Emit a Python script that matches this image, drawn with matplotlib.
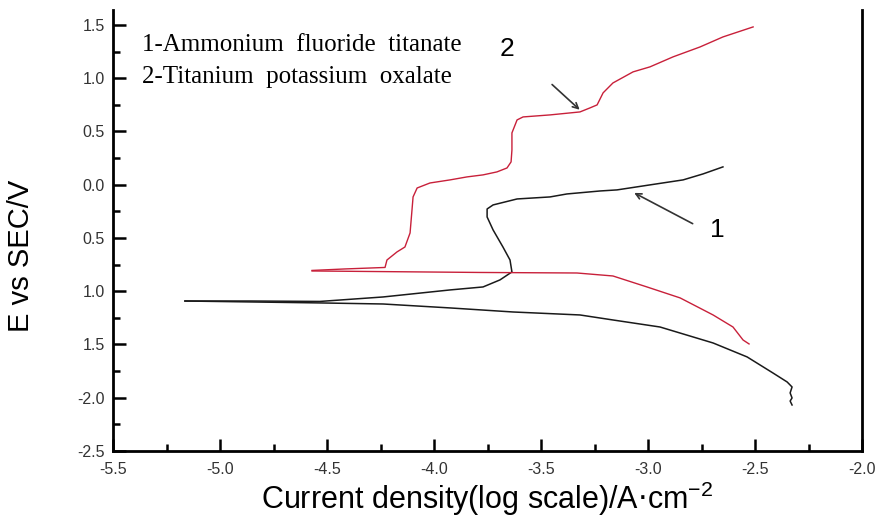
import matplotlib
matplotlib.use("Agg")
import matplotlib.pyplot as plt
from matplotlib.ticker import FixedLocator, FixedFormatter, MultipleLocator

# ── Curve 1: Ammonium fluoride titanate (black) ──────────────────────────────
c1_cath_x = [-5.164, -4.533, -4.238, -3.925, -3.631, -3.318, -3.164, -2.944,
             -2.696, -2.537, -2.416, -2.350, -2.327, -2.336, -2.327, -2.336, -2.327]
c1_cath_y = [-1.092, -1.110, -1.120, -1.157, -1.195, -1.223, -1.270, -1.336,
             -1.486, -1.617, -1.768, -1.852, -1.899, -1.955, -2.002, -2.031, -2.068]
c1_anod_x = [-5.164, -4.860, -4.533, -4.238, -3.925, -3.771, -3.692, -3.636,
             -3.645, -3.678, -3.724, -3.752, -3.752, -3.724, -3.612, -3.458,
             -3.379, -3.224, -3.145, -2.991, -2.836, -2.743, -2.650]
c1_anod_y = [-1.092, -1.092, -1.096, -1.054, -0.988, -0.960, -0.894, -0.819,
             -0.707, -0.585, -0.425, -0.303, -0.228, -0.190, -0.134, -0.115,
             -0.087, -0.059, -0.049, -0.002, 0.045, 0.101, 0.167]

# ── Curve 2: Titanium potassium oxalate (red) ────────────────────────────────
c2_cath_x = [-4.570, -3.785, -3.332, -3.164, -3.005, -2.850, -2.696, -2.603,
             -2.556, -2.528]
c2_cath_y = [-0.810, -0.824, -0.829, -0.857, -0.960, -1.063, -1.223, -1.336,
             -1.458, -1.495]
c2_anod_x = [-4.570, -4.416, -4.229, -4.220, -4.173, -4.136, -4.112, -4.103,
             -4.098, -4.079, -4.019, -3.925, -3.846, -3.771, -3.706, -3.659,
             -3.640, -3.636, -3.636, -3.612, -3.584, -3.458, -3.318, -3.271,
             -3.238, -3.210, -3.164, -3.070, -2.991, -2.883, -2.757, -2.650, -2.509]
c2_anod_y = [-0.805, -0.791, -0.777, -0.707, -0.631, -0.585, -0.453, -0.237,
             -0.115, -0.031, 0.016, 0.045, 0.073, 0.092, 0.120, 0.157,
             0.214, 0.326, 0.486, 0.608, 0.636, 0.655, 0.683, 0.721,
             0.749, 0.862, 0.955, 1.059, 1.106, 1.200, 1.293, 1.387, 1.481]

x_ticks = [-5.5, -5.0, -4.5, -4.0, -3.5, -3.0, -2.5, -2.0]
x_labels = ["-5.5", "-5.0", "-4.5", "-4.0", "-3.5", "-3.0", "-2.5", "-2.0"]
y_ticks = [1.5, 1.0, 0.5, 0.0, -0.5, -1.0, -1.5, -2.0, -2.5]
y_labels = ["1.5", "1.0", "0.5", "0.0", "0.5", "1.0", "1.5", "-2.0", "-2.5"]

legend_lines = ["1-Ammonium  fluoride  titanate", "2-Titanium  potassium  oxalate"]

BLACK = "#1a1a1a"
RED = "#c8203a"

fig = plt.figure(figsize=(8.79, 5.2), dpi=100)
ax = fig.add_axes([0.1286, 0.1327, 0.8521, 0.8481])

ax.plot(c1_cath_x, c1_cath_y, color=BLACK, lw=1.1)
ax.plot(c1_anod_x, c1_anod_y, color=BLACK, lw=1.1)
ax.plot(c2_cath_x, c2_cath_y, color=RED, lw=1.0)
ax.plot(c2_anod_x, c2_anod_y, color=RED, lw=1.0)

ax.set_xlim(-5.5, -2.0)
ax.set_ylim(-2.5, 1.64)

ax.xaxis.set_major_locator(FixedLocator(x_ticks))
ax.xaxis.set_major_formatter(FixedFormatter(x_labels))
ax.xaxis.set_minor_locator(MultipleLocator(0.25))
ax.yaxis.set_major_locator(FixedLocator(y_ticks))
ax.yaxis.set_major_formatter(FixedFormatter(y_labels))
ax.yaxis.set_minor_locator(MultipleLocator(0.25))

ax.tick_params(which="both", direction="in", width=1.8, color="black",
               labelsize=11.5, labelcolor="#333333", pad=6)
ax.tick_params(which="major", length=9)
ax.tick_params(which="minor", length=5)
ax.tick_params(axis="x", pad=8)
for lab in ax.get_xticklabels() + ax.get_yticklabels():
    lab.set_family("Liberation Sans")

ax.spines["top"].set_visible(False)
for s in ("left", "bottom", "right"):
    ax.spines[s].set_linewidth(2.0)

ax.set_xlabel("Current density(log scale)/A$\\cdot$cm$^{\\mathregular{-2}}$",
              fontsize=22, family="Liberation Sans")
ax.xaxis.set_label_coords(0.4993, -0.066)
ax.set_ylabel("E vs SEC/V", fontsize=21, family="Liberation Sans")
ax.yaxis.set_label_coords(-0.104, 0.442)

# legend text (serif)
ax.text(-5.364, 1.312, legend_lines[0], fontsize=18, family="Liberation Serif",
        va="center", ha="left")
ax.text(-5.364, 1.012, legend_lines[1], fontsize=18, family="Liberation Serif",
        va="center", ha="left")

# curve labels with arrows
ax.text(-3.660, 1.272, "2", fontsize=19, family="Liberation Sans",
        ha="center", va="center")
ax.annotate("", xy=(-3.310, 0.686), xytext=(-3.458, 0.958),
            arrowprops=dict(arrowstyle="->", color="#333333", lw=1.2))
ax.text(-2.678, -0.425, "1", fontsize=19, family="Liberation Sans",
        ha="center", va="center")
ax.annotate("", xy=(-3.076, -0.065), xytext=(-2.780, -0.378),
            arrowprops=dict(arrowstyle="->", color="#333333", lw=1.2))

fig.savefig("out.png", dpi=100)
